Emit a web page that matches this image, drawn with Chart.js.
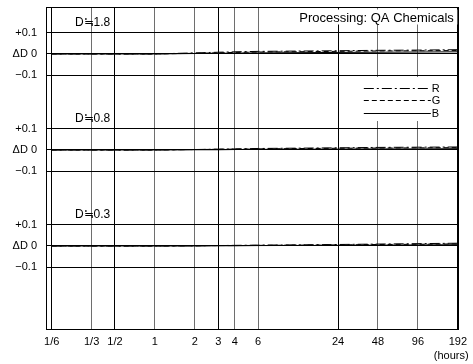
<!DOCTYPE html>
<html>
<head>
<meta charset="utf-8">
<script src="https://cdn.jsdelivr.net/npm/chart.js@4"></script>
<style>
  html, body { margin: 0; padding: 0; background: #fff; }
  #wrap { width: 473px; height: 364px; }
</style>
</head>
<body>
<div id="wrap"><canvas id="c" width="473" height="364"></canvas></div>
<script>
// ---- data ----
const hours = [1/6, 1/3, 1/2, 1, 2, 3, 4, 6, 24, 48, 96, 192];
const hourLabels = ['1/6', '1/3', '1/2', '1', '2', '3', '4', '6', '24', '48', '96', '192'];
const densityLabels = ['D≒1.8', 'D≒0.8', 'D≒0.3'];
const deltaTickValues = [0.1, 0, -0.1];
const deltaTickLabels = ['+0.1', 'ΔD 0', '−0.1'];
const channelNames = ['R', 'G', 'B'];

// D ≒ 1.8
const r18 = [0, 0, 0, 0, 0.005, 0.008, 0.010, 0.012, 0.015, 0.017, 0.018, 0.020];
const g18 = [0, 0, 0, 0, 0.003, 0.005, 0.007, 0.009, 0.012, 0.014, 0.015, 0.016];
const b18 = [0, 0, 0, 0, 0.002, 0.003, 0.004, 0.005, 0.007, 0.008, 0.009, 0.010];
// D ≒ 0.8
const r08 = [0, 0, 0, 0, 0.002, 0.004, 0.005, 0.007, 0.010, 0.012, 0.013, 0.014];
const g08 = [0, 0, 0, 0, 0.002, 0.003, 0.004, 0.005, 0.008, 0.009, 0.010, 0.011];
const b08 = [0, 0, 0, 0, 0.001, 0.001, 0.002, 0.003, 0.004, 0.005, 0.005, 0.006];
// D ≒ 0.3
const r03 = [0, 0, 0, 0, 0.001, 0.002, 0.003, 0.004, 0.007, 0.009, 0.011, 0.013];
const g03 = [0, 0, 0, 0, 0.001, 0.002, 0.002, 0.003, 0.005, 0.007, 0.008, 0.010];
const b03 = [0, 0, 0, 0, 0.000, 0.001, 0.001, 0.002, 0.003, 0.004, 0.005, 0.006];

const titleText = 'Processing: QA Chemicals';
const unitText = '(hours)';

// ---- layout / style constants ----
const panelSeries = [[r18, g18, b18], [r08, g08, b08], [r03, g03, b03]];
const panelBase = [0.9, 0.45, 0];           // vertical stacking of the three panels
const channelDash = [[10, 3, 2, 3], [5, 3], []];
const darkGrid = [true, false, true, false, false, true, false, false, true, false, false, true];
const FONT = "'Liberation Sans', Arial, 'Noto Sans CJK JP', sans-serif";

const datasets = [];
panelSeries.forEach((series, p) => {
  series.forEach((vals, c) => {
    datasets.push({
      label: channelNames[c] + ' ' + densityLabels[p],
      data: hours.map((h, i) => ({ x: h, y: panelBase[p] + vals[i] })),
      borderColor: '#000',
      borderWidth: 1,
      borderDash: channelDash[c],
      pointRadius: 0,
      fill: false,
      tension: 0
    });
  });
});

const yTicks = [];
const yTickText = {};
panelBase.forEach(b => {
  deltaTickValues.forEach((v, k) => {
    const val = +(b + v).toFixed(4);
    yTicks.push(val);
    yTickText[val.toFixed(4)] = deltaTickLabels[k];
  });
});

const decorPlugin = {
  id: 'decor',
  afterDraw(chart) {
    const { ctx, chartArea: a, scales } = chart;
    const xs = scales.x, ys = scales.y;
    ctx.save();
    // frame
    ctx.strokeStyle = '#000';
    ctx.lineWidth = 1;
    ctx.setLineDash([]);
    ctx.strokeRect(Math.round(a.left) + 0.5, Math.round(a.top) + 0.5,
                   Math.round(a.right - a.left), Math.round(a.bottom - a.top));
    // density labels
    ctx.fillStyle = '#000';
    ctx.font = '12px ' + FONT;
    ctx.textAlign = 'center';
    ctx.textBaseline = 'middle';
    densityLabels.forEach((t, p) => {
      ctx.fillText(t, xs.getPixelForValue(hours[1]) + 1, ys.getPixelForValue(panelBase[p] + 0.148));
    });
    // title box
    ctx.fillStyle = '#fff';
    ctx.fillRect(a.right - 165, a.top + 2.5, 164.5, 15);
    ctx.fillStyle = '#000';
    ctx.font = '13px ' + FONT;
    ctx.textAlign = 'right';
    ctx.fillText(titleText, a.right - 4, a.top + 11);
    // legend
    ctx.fillStyle = '#fff';
    ctx.fillRect(a.right - 101, a.top + 70, 88, 44);
    ctx.font = '11px ' + FONT;
    ctx.textAlign = 'left';
    channelNames.forEach((n, c) => {
      const y = Math.round(a.top + 80.5 + c * 12.5) + 0.5;
      ctx.strokeStyle = '#000';
      ctx.lineWidth = 1;
      ctx.setLineDash(channelDash[c]);
      ctx.beginPath();
      ctx.moveTo(a.right - 94, y);
      ctx.lineTo(a.right - 27, y);
      ctx.stroke();
      ctx.fillStyle = '#000';
      ctx.fillText(n, a.right - 26, y + 0.5);
    });
    ctx.setLineDash([]);
    // unit
    ctx.font = '11px ' + FONT;
    ctx.textAlign = 'left';
    ctx.fillText(unitText, a.right - 24, a.bottom + 27);
    ctx.restore();
  }
};

new Chart(document.getElementById('c'), {
  type: 'line',
  data: { datasets },
  options: {
    responsive: false,
    animation: false,
    events: [],
    layout: { padding: { top: 7, right: 12, bottom: 0, left: 0 } },
    plugins: { legend: { display: false }, tooltip: { enabled: false }, title: { display: false } },
    scales: {
      x: {
        type: 'logarithmic',
        min: 0.151,
        max: 192,
        bounds: 'data',
        afterBuildTicks(s) { s.ticks = hours.map(v => ({ value: v })); },
        afterFit(s) { s.height = 35; },
        ticks: {
          autoSkip: false, maxRotation: 0, minRotation: 0, padding: 6,
          color: '#000', font: { family: FONT, size: 11 },
          callback: (v, i) => hourLabels[i]
        },
        grid: {
          drawTicks: false,
          color: c => darkGrid[c.index] ? '#000' : '#6e6e6e',
          lineWidth: 1
        },
        border: { display: true, color: '#000', width: 1 }
      },
      y: {
        type: 'linear',
        min: -0.389,
        max: 1.12,
        bounds: 'data',
        afterBuildTicks(s) { s.ticks = yTicks.map(v => ({ value: v })); },
        afterFit(s) { s.width = 46; s.paddingTop = 0; },
        ticks: {
          padding: 9, color: '#000', font: { family: FONT, size: 11 },
          callback: v => yTickText[(+v).toFixed(4)] || ''
        },
        grid: { drawTicks: false, color: '#000', lineWidth: 1 },
        border: { display: true, color: '#000', width: 1 }
      }
    }
  },
  plugins: [decorPlugin]
});
</script>
</body>
</html>
